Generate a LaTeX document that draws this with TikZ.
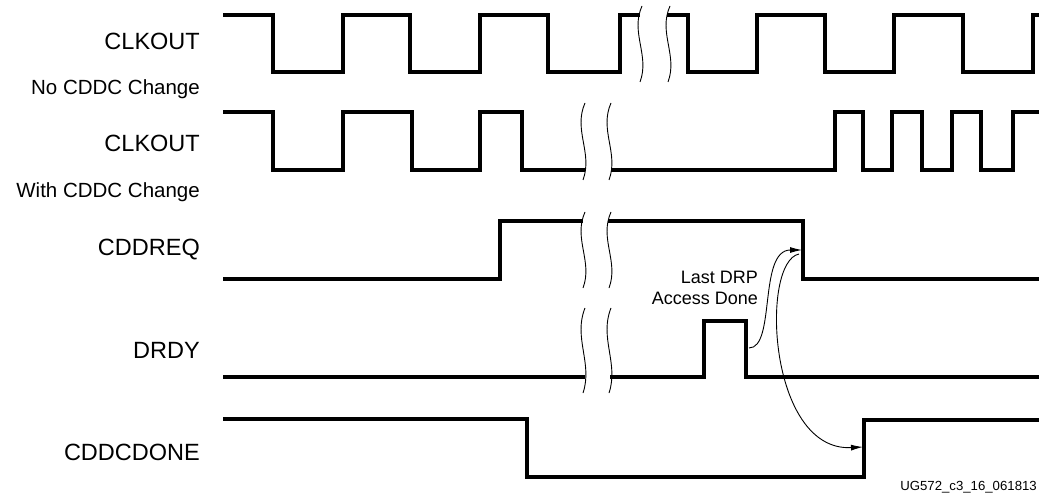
\documentclass[tikz,border=0pt]{standalone}
\usepackage{fontspec}
\setmainfont{Liberation Sans}
\usetikzlibrary{arrows.meta}
\newcommand\wavebreak[3]{\draw[brk] (#1+4,#2) .. controls (#1-8,#2+0.35*#3-0.35*#2) and (#1+12,#3-0.35*#3+0.35*#2) .. (#1+2,#3);}
\begin{document}
\begin{tikzpicture}[x=1pt,y=-1pt,
  wave/.style={line width=3.2pt, line join=miter},
  brk/.style={line width=0.9pt},
  lbl/.style={anchor=base east, inner sep=0pt, font=\fontsize{23.5}{26}\selectfont},
  sublbl/.style={anchor=base east, inner sep=0pt, font=\fontsize{20.5}{24}\selectfont},
  note/.style={anchor=base east, inner sep=0pt, font=\fontsize{18}{21}\selectfont},
  arr/.style={line width=0.9pt, -{Latex[length=12pt,width=6pt]}}]
\useasboundingbox (0,0) rectangle (1039,503);
% labels
\node[lbl] (l1) at (200,50) {CLKOUT};
\node[sublbl] (l1s) at (200,95) {No CDDC Change};
\node[lbl] (l2) at (200,151) {CLKOUT};
\node[sublbl] (l2s) at (200,197) {With CDDC Change};
\node[lbl] (l3) at (200,255) {CDDREQ};
\node[lbl] (l4) at (200,358) {DRDY};
\node[lbl] (l5) at (200,460) {CDDCDONE};
\node[note] (n1) at (758,283) {Last DRP};
\node[note] (n2) at (758,304) {Access Done};
\node[anchor=base east, inner sep=0pt, font=\fontsize{13.2}{15}\selectfont] (id) at (1037,490) {UG572\_c3\_16\_061813};
% CLKOUT no change
\draw[wave] (223,15)--(273,15)--(273,72)--(343,72)--(343,15)--(410,15)--(410,72)--(480,72)--(480,15)--(548,15)--(548,72)--(620,72)--(620,15)--(640,15);
\draw[wave] (667,15)--(688,15)--(688,72)--(757,72)--(757,15)--(825,15)--(825,72)--(894,72)--(894,15)--(963,15)--(963,72)--(1033,72)--(1033,15)--(1045,15);
\wavebreak{638}{6}{82}
\wavebreak{666}{6}{82}
% CLKOUT with change
\draw[wave] (223,112)--(273,112)--(273,170)--(343,170)--(343,112)--(412,112)--(412,170)--(480,170)--(480,112)--(522,112)--(522,170)--(585,170);
\draw[wave] (611,170)--(835,170)--(835,112)--(863,112)--(863,170)--(892,170)--(892,112)--(922,112)--(922,170)--(952,170)--(952,112)--(981,112)--(981,170)--(1013,170)--(1013,112)--(1045,112);
\wavebreak{581}{103}{180}
\wavebreak{607}{103}{180}
% CDDREQ
\draw[wave] (223,279)--(500,279)--(500,221)--(583,221);
\draw[wave] (608,221)--(803,221)--(803,279)--(1045,279);
\wavebreak{581}{212}{288}
\wavebreak{607}{212}{288}
% DRDY
\draw[wave] (223,377)--(585,377);
\draw[wave] (610,377)--(704,377)--(704,321)--(746,321)--(746,377)--(1045,377);
\wavebreak{581}{308}{393}
\wavebreak{607}{308}{393}
% CDDCDONE
\draw[wave] (223,419)--(527,419)--(527,477)--(864,477)--(864,420)--(1045,420);
% arrows
\coordinate (a1s) at (749,348);
\coordinate (a1e) at (802,250);
\coordinate (a2s) at (799,254);
\coordinate (a2e) at (863,447);
\draw[arr] (a1s) .. controls (776,348) and (758,250) .. (a1e);
\draw[arr] (a2s) .. controls (760,262) and (768,452) .. (a2e);
\end{tikzpicture}
\end{document}
